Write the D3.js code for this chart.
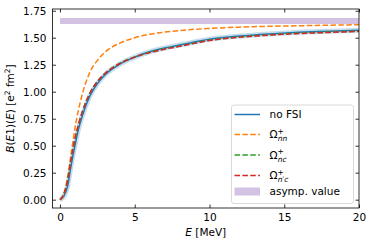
<!DOCTYPE html>
<html>
<head>
<meta charset="utf-8">
<script src="https://cdn.jsdelivr.net/npm/d3@7"></script>
<style>
  body { margin: 0; background: #fff; }
  svg text { font-family: "DejaVu Sans", sans-serif; fill: #000; }
</style>
</head>
<body>
<div id="chart"></div>
<script>
// energies in MeV
var energies = [0, 0.25, 0.5, 0.75, 1, 1.25, 1.5, 2, 2.5, 3, 4, 5, 6, 7, 8, 10, 12, 14, 16, 18, 20];
var noFSI  = [0, 0.03, 0.12, 0.32, 0.50, 0.66, 0.78, 0.96, 1.075, 1.155, 1.255, 1.32, 1.37, 1.405, 1.432, 1.485, 1.515, 1.535, 1.55, 1.56, 1.57];
var omegaNN = [0, 0.04, 0.20, 0.43, 0.66, 0.84, 0.98, 1.18, 1.29, 1.365, 1.45, 1.50, 1.532, 1.552, 1.567, 1.586, 1.598, 1.606, 1.611, 1.616, 1.62];
var omegaNC = [0, 0.05, 0.17, 0.38, 0.56, 0.70, 0.815, 0.985, 1.095, 1.168, 1.262, 1.322, 1.365, 1.397, 1.423, 1.477, 1.507, 1.527, 1.542, 1.552, 1.562];
var omegaNpC = [0, 0.05, 0.17, 0.38, 0.56, 0.70, 0.815, 0.985, 1.093, 1.166, 1.26, 1.32, 1.362, 1.394, 1.42, 1.474, 1.504, 1.524, 1.539, 1.549, 1.559];
var asympValue = 1.655;
var xTicks = [0, 5, 10, 15, 20];
var yTicks = [0, 0.25, 0.5, 0.75, 1.0, 1.25, 1.5, 1.75];

var svgWidth = 374, svgHeight = 245;
var margin = { top: 9, right: 15, bottom: 37, left: 52.5 };
var width = svgWidth - margin.left - margin.right;
var height = svgHeight - margin.top - margin.bottom;

var svg = d3.select("#chart").append("svg")
    .attr("width", svgWidth)
    .attr("height", svgHeight);

var x = d3.scaleLinear().domain([-0.5, 20]).range([0, width]);
var y = d3.scaleLinear().domain([-0.077, 1.766]).range([height, 0]);

var g = svg.append("g")
    .attr("transform", "translate(" + margin.left + "," + margin.top + ")");

g.append("defs").append("clipPath")
    .attr("id", "clip")
    .append("rect")
    .attr("width", width)
    .attr("height", height);

var plot = g.append("g").attr("clip-path", "url(#clip)");

// asymptotic value band
plot.append("line")
    .attr("x1", x(0)).attr("x2", x(20))
    .attr("y1", y(asympValue)).attr("y2", y(asympValue))
    .attr("stroke", "#9467bd")
    .attr("stroke-opacity", 0.4)
    .attr("stroke-width", 6);

var line = function (vals) {
    return d3.line()
        .curve(d3.curveMonotoneX)
        .x(function (d, i) { return x(energies[i]); })
        .y(function (d) { return y(d); })(vals);
};

// no FSI, with soft halo
plot.append("path")
    .attr("d", line(noFSI))
    .attr("fill", "none")
    .attr("stroke", "#1f77b4")
    .attr("stroke-opacity", 0.25)
    .attr("stroke-width", 5);
plot.append("path")
    .attr("d", line(noFSI))
    .attr("fill", "none")
    .attr("stroke", "#1f77b4")
    .attr("stroke-width", 1.5);

var dashed = [
    { vals: omegaNN, color: "#ff7f0e" },
    { vals: omegaNC, color: "#2ca02c" },
    { vals: omegaNpC, color: "#d62728" }
];
dashed.forEach(function (s) {
    plot.append("path")
        .attr("d", line(s.vals))
        .attr("fill", "none")
        .attr("stroke", s.color)
        .attr("stroke-width", 1.5)
        .attr("stroke-dasharray", "5.5,2.4");
});

// axes, ticks inward on all four sides
var tickLen = 3.5;
var xAxis = d3.axisBottom(x).tickValues(xTicks).tickSize(-tickLen).tickPadding(6).tickFormat(d3.format("d"));
var yAxis = d3.axisLeft(y).tickValues(yTicks).tickSize(-tickLen).tickPadding(6).tickFormat(d3.format(".2f"));
var xAxisTop = d3.axisTop(x).tickValues(xTicks).tickSize(-tickLen).tickFormat("");
var yAxisRight = d3.axisRight(y).tickValues(yTicks).tickSize(-tickLen).tickFormat("");

var axes = [
    g.append("g").attr("transform", "translate(0," + height + ")").call(xAxis),
    g.append("g").call(yAxis),
    g.append("g").call(xAxisTop),
    g.append("g").attr("transform", "translate(" + width + ",0)").call(yAxisRight)
];
axes.forEach(function (a) {
    a.select(".domain").remove();
    a.selectAll(".tick line").attr("stroke", "#000").attr("stroke-width", 0.8);
    a.selectAll(".tick text")
        .attr("font-size", "10.5px")
        .attr("font-family", "DejaVu Sans, sans-serif")
        .attr("fill", "#000");
});

g.append("rect")
    .attr("width", width)
    .attr("height", height)
    .attr("fill", "none")
    .attr("stroke", "#000")
    .attr("stroke-width", 0.8);

// axis labels
var xl = g.append("text")
    .attr("x", width / 2)
    .attr("y", height + 28)
    .attr("text-anchor", "middle")
    .attr("font-size", "10.5px");
xl.append("tspan").attr("font-style", "italic").text("E");
xl.append("tspan").text(" [MeV]");

var yl = g.append("text")
    .attr("transform", "translate(" + (-39) + "," + (height / 2) + ") rotate(-90)")
    .attr("text-anchor", "middle")
    .attr("font-size", "10.5px");
yl.append("tspan").attr("font-style", "italic").text("B");
yl.append("tspan").text("(");
yl.append("tspan").attr("font-style", "italic").text("E");
yl.append("tspan").text("1)(");
yl.append("tspan").attr("font-style", "italic").text("E");
yl.append("tspan").text(") [e");
yl.append("tspan").attr("font-size", "7.5px").attr("dy", -4).text("2");
yl.append("tspan").attr("dy", 4).text(" fm");
yl.append("tspan").attr("font-size", "7.5px").attr("dy", -4).text("2");
yl.append("tspan").attr("dy", 4).text("]");

// legend
var legend = svg.append("g");
legend.append("rect")
    .attr("x", 231.5).attr("y", 105)
    .attr("width", 122).attr("height", 98.5)
    .attr("rx", 2.5)
    .attr("fill", "#fff")
    .attr("fill-opacity", 0.8)
    .attr("stroke", "#d0d0d0")
    .attr("stroke-width", 0.8);

var legendItems = [
    { kind: "solid", color: "#1f77b4", yc: 114.5, sub: null, label: "no FSI" },
    { kind: "dash", color: "#ff7f0e", yc: 134.5, sub: "nn" },
    { kind: "dash", color: "#2ca02c", yc: 155, sub: "nc" },
    { kind: "dash", color: "#d62728", yc: 175.5, sub: "n\u2032c" },
    { kind: "patch", color: "#9467bd", yc: 191.5, sub: null, label: "asymp. value" }
];
var hx0 = 234.5, hx1 = 260, tx = 269.5;
legendItems.forEach(function (it) {
    if (it.kind === "patch") {
        legend.append("rect")
            .attr("x", hx0).attr("y", it.yc - 4)
            .attr("width", hx1 - hx0).attr("height", 8)
            .attr("fill", it.color).attr("fill-opacity", 0.4);
    } else {
        legend.append("line")
            .attr("x1", hx0).attr("x2", hx1)
            .attr("y1", it.yc).attr("y2", it.yc)
            .attr("stroke", it.color)
            .attr("stroke-width", 1.5)
            .attr("stroke-dasharray", it.kind === "dash" ? "5.5,2.4" : null);
    }
    var t = legend.append("text")
        .attr("x", tx)
        .attr("y", it.yc + 3.8)
        .attr("font-size", "10.5px");
    if (it.sub) {
        t.append("tspan").text("\u03A9");
        t.append("tspan").attr("font-size", "7.5px").attr("dy", -4.5).text("+");
        t.append("tspan").attr("font-size", "7.5px").attr("font-style", "italic")
            .attr("x", tx + 8.3).attr("dy", 7.5).text(it.sub);
    } else {
        t.text(it.label);
    }
});
</script>
</body>
</html>
